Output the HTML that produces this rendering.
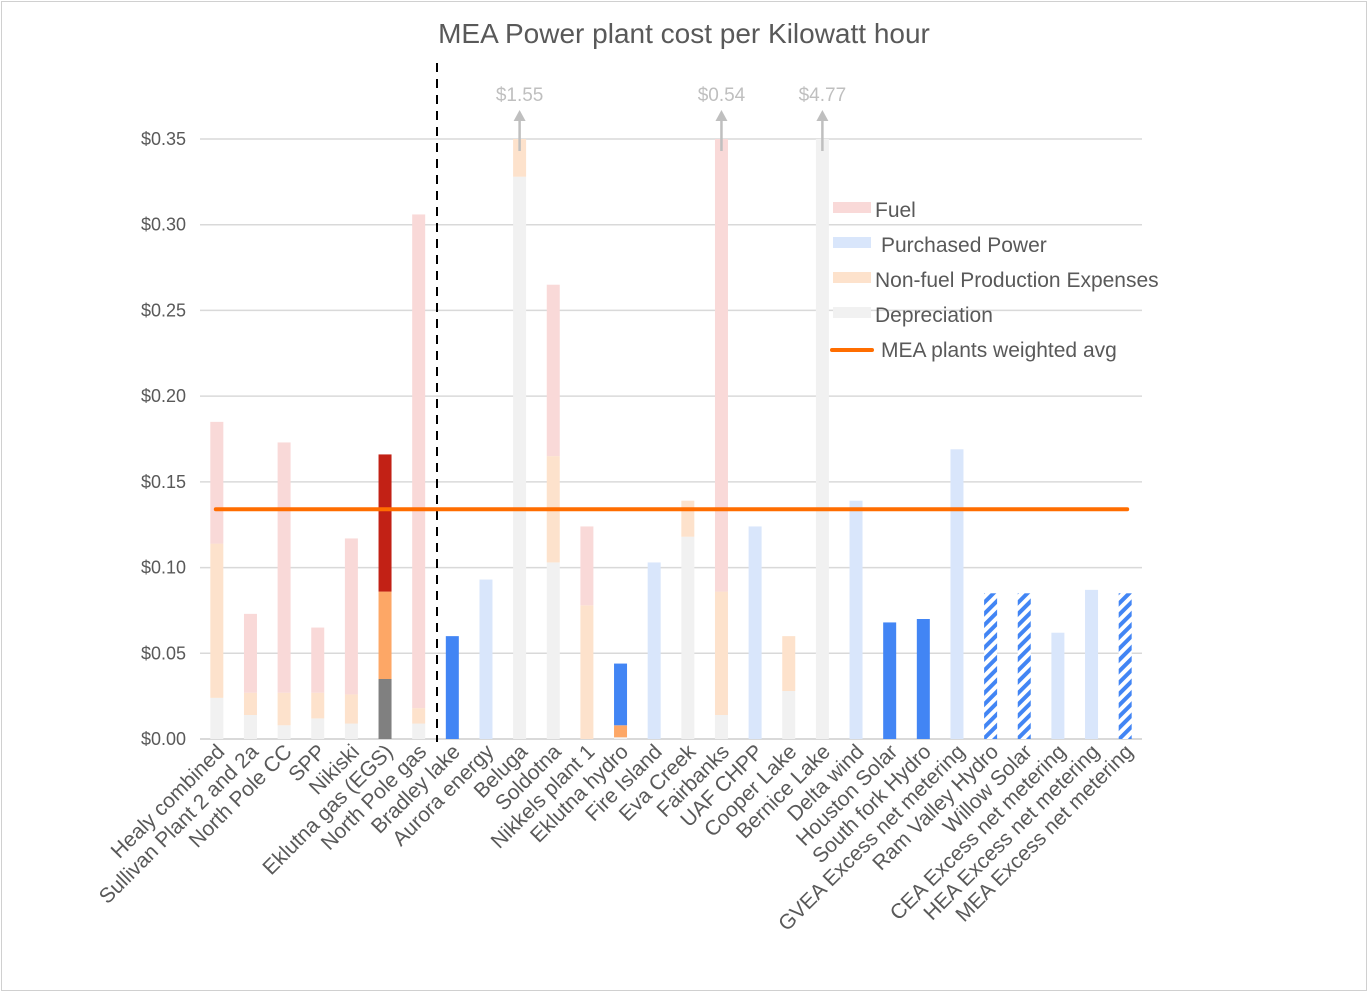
<!DOCTYPE html>
<html><head><meta charset="utf-8"><style>
html,body{margin:0;padding:0;background:#fff}
svg{display:block;font-family:"Liberation Sans",sans-serif}
</style></head><body>
<svg id="chart" width="1368" height="992" viewBox="0 0 1368 992">
<defs>
<pattern id="hatch" patternUnits="userSpaceOnUse" width="8" height="8" patternTransform="rotate(45)">
<rect width="8" height="8" fill="#fff"/><rect width="4" height="8" fill="#4285f4"/>
</pattern>
</defs>
<rect x="1.5" y="1.5" width="1365" height="989" fill="#fff" stroke="#d0d0d0"/>
<text x="684" y="43" text-anchor="middle" font-size="28" fill="#595959">MEA Power plant cost per Kilowatt hour</text>
<g id="grid"></g><g id="bars"></g><g id="labels"></g>
<line x1="437" y1="63" x2="437" y2="742" stroke="#000" stroke-width="2" stroke-dasharray="9,7"/>
<g id="avg"></g>
<g id="legend">
<rect x="833" y="202" width="38" height="11" fill="#f9d9d8"/>
<text x="875" y="217" font-size="21" fill="#595959">Fuel</text>
<rect x="833" y="237" width="38" height="11" fill="#d9e6fb"/>
<text x="881" y="252" font-size="21" fill="#595959">Purchased Power</text>
<rect x="833" y="272" width="38" height="11" fill="#fde2cc"/>
<text x="875" y="287" font-size="21" fill="#595959">Non-fuel Production Expenses</text>
<rect x="833" y="307" width="38" height="11" fill="#f1f1f1"/>
<text x="875" y="322" font-size="21" fill="#595959">Depreciation</text>
<line x1="832" y1="350" x2="872" y2="350" stroke="#ff6d00" stroke-width="4" stroke-linecap="round"/>
<text x="881" y="357" font-size="21" fill="#595959">MEA plants weighted avg</text>
</g>
</svg>
<script>
const categories=["Healy combined","Sullivan Plant 2 and 2a","North Pole CC","SPP","Nikiski","Eklutna gas (EGS)","North Pole gas","Bradley lake","Aurora energy","Beluga","Soldotna","Nikkels plant 1","Eklutna hydro","Fire Island","Eva Creek","Fairbanks","UAF CHPP","Cooper Lake","Bernice Lake","Delta wind","Houston Solar","South fork Hydro","GVEA Excess net metering","Ram Valley Hydro","Willow Solar","CEA Excess net metering","HEA Excess net metering","MEA Excess net metering"];
const depreciation=[0.024,0.014,0.008,0.012,0.009,0.035,0.009,0,0,0.328,0.103,0,0.001,0,0.118,0.014,0,0.028,0.35,0,0,0,0,0,0,0,0,0];
const nonfuel=[0.090,0.013,0.019,0.015,0.017,0.051,0.009,0,0,0.022,0.062,0.078,0.007,0,0.021,0.072,0,0.032,0,0,0,0,0,0,0,0,0,0];
const fuel=[0.071,0.046,0.146,0.038,0.091,0.080,0.288,0,0,0,0.100,0.046,0,0,0,0.264,0,0,0,0,0,0,0,0,0,0,0,0];
const purchased=[0,0,0,0,0,0,0,0,0.093,0,0,0,0,0.103,0,0,0.124,0,0,0.139,0,0,0.169,0,0,0.062,0.087,0];
const ownHydroSolar=[0,0,0,0,0,0,0,0.060,0,0,0,0,0.036,0,0,0,0,0,0,0,0.068,0.070,0,0,0,0,0,0];
const hatched=[0,0,0,0,0,0,0,0,0,0,0,0,0,0,0,0,0,0,0,0,0,0,0,0.085,0.085,0,0,0.085];
const overflowLabels=[["Beluga","$1.55"],["Fairbanks","$0.54"],["Bernice Lake","$4.77"]];
const avgValue=0.134;
const yTicks=[0,0.05,0.10,0.15,0.20,0.25,0.30,0.35];
const yMax=0.35;

const NS="http://www.w3.org/2000/svg";
const X0=200,X1=1142,Y0=739,Y1=139;
const step=(X1-X0)/categories.length;
const xc=i=>X0+step*(i+0.5);
const y=v=>Y0-(Math.min(v,yMax)/yMax)*(Y0-Y1);
function mk(tag,attrs,parent){const e=document.createElementNS(NS,tag);for(const k in attrs)e.setAttribute(k,attrs[k]);parent.appendChild(e);return e;}
const grid=document.getElementById('grid'),bars=document.getElementById('bars'),labels=document.getElementById('labels'),avg=document.getElementById('avg');
yTicks.forEach(t=>{
  const l=mk('line',{x1:X0,x2:X1,y1:y(t),y2:y(t),stroke:'#d9d9d9','stroke-width':t===0?2:1.5},grid);
  
  
  const tx=mk('text',{x:186,y:y(t)+6,'text-anchor':'end','font-size':18,fill:'#595959'},grid);
  tx.textContent='$'+t.toFixed(2);
  
  
});
const BW=13;
categories.forEach((c,i)=>{
  const x=xc(i)-BW/2;
  const egs=(c==="Eklutna gas (EGS)");
  const ekh=(c==="Eklutna hydro");
  const segs=[
    [depreciation[i],egs?'#808080':'#f1f1f1','bar-depreciation'],
    [nonfuel[i],(egs||ekh)?'#fda766':'#fde2cc','bar-nonfuel'],
    [fuel[i],egs?'#c22115':'#f9d9d8','bar-fuel'],
    [purchased[i],'#d9e6fb','bar-purchased'],
    [ownHydroSolar[i],'#4285f4','bar-own-generation'],
    [hatched[i],'url(#hatch)','bar-net-metering']
  ];
  let base=0;
  segs.forEach(s=>{
    if(s[0]<=0)return;
    const top=base+s[0];
    const r=mk('rect',{x:x,width:BW,y:y(top),height:Math.max(0,y(base)-y(top)),fill:s[1]},bars);
    
    
    base=top;
  });
  const t=mk('text',{transform:`translate(${xc(i)+9},${Y0+14}) rotate(-45)`,'text-anchor':'end','font-size':21,fill:'#595959'},labels);
  t.textContent=c;
  
  
});
overflowLabels.forEach(o=>{
  const i=categories.indexOf(o[0]);
  const cx=xc(i);
  const ln=mk('line',{x1:cx,x2:cx,y1:151,y2:120,stroke:'#bfbfbf','stroke-width':2.5},bars);
  
  
  const ah=mk('polygon',{points:`${cx-6},121 ${cx+6},121 ${cx},110`,fill:'#bfbfbf'},bars);
  
  
  const tx=mk('text',{x:cx,y:101,'text-anchor':'middle','font-size':19,fill:'#bfbfbf'},bars);
  tx.textContent=o[1];
  
  
});
const al=mk('line',{x1:xc(0)-1,x2:xc(categories.length-1)+2,y1:y(avgValue),y2:y(avgValue),stroke:'#ff6d00','stroke-width':4,'stroke-linecap':'round'},avg);


</script>
</body></html>
